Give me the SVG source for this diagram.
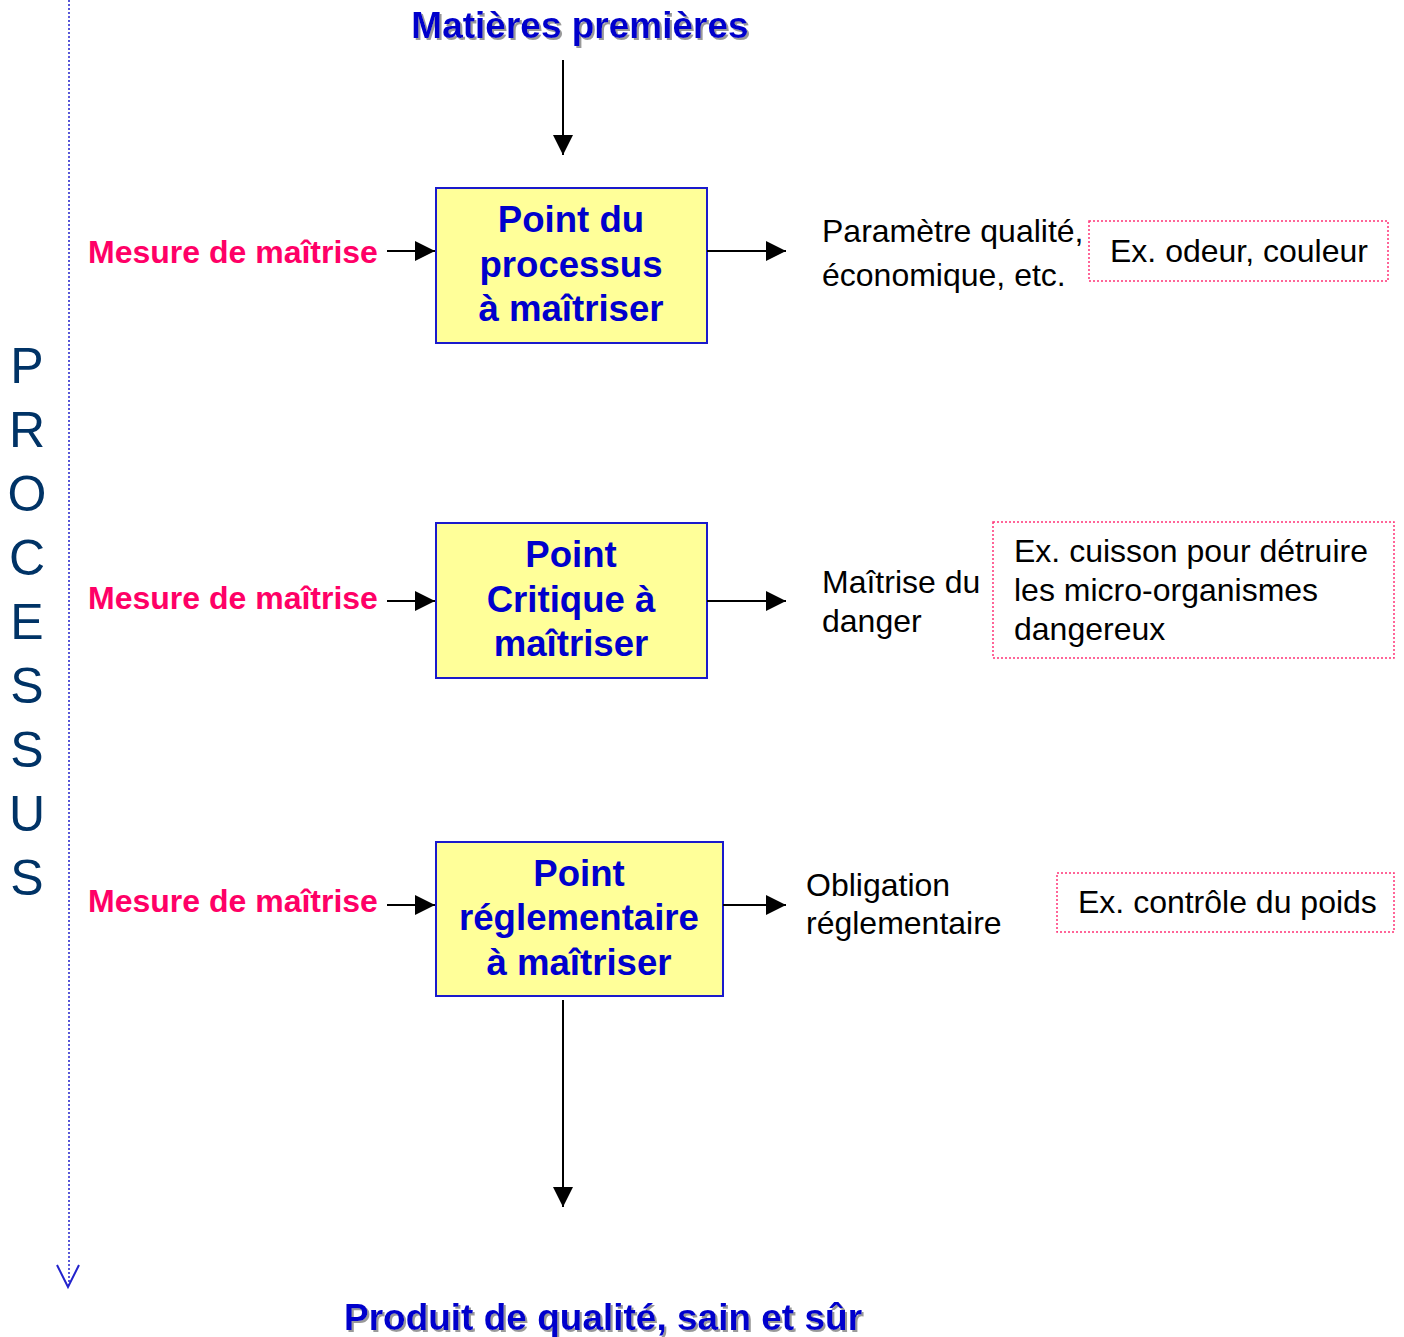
<svg xmlns="http://www.w3.org/2000/svg" width="1404" height="1337" viewBox="0 0 1404 1337">
<style>
.title{font-family:"Liberation Sans",Arial,sans-serif;font-weight:bold;font-size:37px;fill:#0000CC;text-anchor:middle}
.box{fill:#FFFF99;stroke:#1A1ACC;stroke-width:2}
.bt{font-family:"Liberation Sans",Arial,sans-serif;font-weight:bold;font-size:36.6px;fill:#0000CC;text-anchor:middle}
.mes{font-family:"Liberation Sans",Arial,sans-serif;font-weight:bold;font-size:32px;fill:#FF0066}
.rt{font-family:"Liberation Sans",Arial,sans-serif;font-size:32px;fill:#000}
.ex{fill:none;stroke:#FF3377;stroke-width:1.5;stroke-dasharray:2 2}
.proc{font-family:"Liberation Sans",Arial,sans-serif;font-size:50px;fill:#003366;text-anchor:middle}
.conn{stroke:#000;stroke-width:2;fill:none}
</style>
<defs>
<marker id="ah" markerUnits="userSpaceOnUse" markerWidth="20" markerHeight="20" viewBox="0 0 20 20" refX="20" refY="10" orient="auto">
<path d="M0,0 L20,10 L0,20 Z" fill="#000"/>
</marker>
<filter id="sh" x="-5%" y="-20%" width="110%" height="140%">
<feDropShadow dx="2" dy="2" stdDeviation="0.6" flood-color="#999999" flood-opacity="1"/>
</filter>
</defs>

<g id="process-axis">
<line x1="69" y1="0" x2="69" y2="1285" stroke="#2222CC" stroke-width="1.5" stroke-dasharray="2 2"/>
<path d="M57,1265 L68,1287 L79,1265" fill="none" stroke="#2222CC" stroke-width="2"/>
<text class="proc" x="27" y="383">P</text>
<text class="proc" x="27" y="447">R</text>
<text class="proc" x="27" y="511">O</text>
<text class="proc" x="27" y="575">C</text>
<text class="proc" x="27" y="639">E</text>
<text class="proc" x="27" y="703">S</text>
<text class="proc" x="27" y="767">S</text>
<text class="proc" x="27" y="831">U</text>
<text class="proc" x="27" y="895">S</text>
</g>

<g id="input"><text class="title" x="580" y="38" filter="url(#sh)">Matières premières</text></g>
<g id="output"><text class="title" x="603" y="1330" filter="url(#sh)">Produit de qualité, sain et sûr</text></g>

<g id="box1">
<rect class="box" x="436" y="188" width="271" height="155"/>
<text class="bt" x="571" y="232">Point du</text>
<text class="bt" x="571" y="277">processus</text>
<text class="bt" x="571" y="321">à maîtriser</text>
</g>
<g id="box2">
<rect class="box" x="436" y="523" width="271" height="155"/>
<text class="bt" x="571" y="567">Point</text>
<text class="bt" x="571" y="612">Critique à</text>
<text class="bt" x="571" y="656">maîtriser</text>
</g>
<g id="box3">
<rect class="box" x="436" y="842" width="287" height="154"/>
<text class="bt" x="579" y="886">Point</text>
<text class="bt" x="579" y="930">réglementaire</text>
<text class="bt" x="579" y="975">à maîtriser</text>
</g>

<g id="mesure1"><text class="mes" x="88" y="263">Mesure de maîtrise</text></g>
<g id="mesure2"><text class="mes" x="88" y="609">Mesure de maîtrise</text></g>
<g id="mesure3"><text class="mes" x="88" y="912">Mesure de maîtrise</text></g>

<g id="result1">
<text class="rt" x="822" y="242">Paramètre qualité,</text>
<text class="rt" x="822" y="286">économique, etc.</text>
</g>
<g id="result2">
<text class="rt" x="822" y="593">Maîtrise du</text>
<text class="rt" x="822" y="632">danger</text>
</g>
<g id="result3">
<text class="rt" x="806" y="896">Obligation</text>
<text class="rt" x="806" y="934">réglementaire</text>
</g>

<g id="example1">
<rect class="ex" x="1089" y="221" width="299" height="60"/>
<text class="rt" x="1110" y="262">Ex. odeur, couleur</text>
</g>
<g id="example2">
<rect class="ex" x="993" y="522" width="401" height="136"/>
<text class="rt" x="1014" y="562">Ex. cuisson pour détruire</text>
<text class="rt" x="1014" y="601">les micro-organismes</text>
<text class="rt" x="1014" y="640">dangereux</text>
</g>
<g id="example3">
<rect class="ex" x="1057" y="873" width="337" height="59"/>
<text class="rt" x="1078" y="913">Ex. contrôle du poids</text>
</g>

<g id="connectors">
<line class="conn" x1="563" y1="60" x2="563" y2="155" marker-end="url(#ah)"/>
<line class="conn" x1="387" y1="251" x2="435" y2="251" marker-end="url(#ah)"/>
<line class="conn" x1="707" y1="251" x2="786" y2="251" marker-end="url(#ah)"/>
<line class="conn" x1="387" y1="601" x2="435" y2="601" marker-end="url(#ah)"/>
<line class="conn" x1="707" y1="601" x2="786" y2="601" marker-end="url(#ah)"/>
<line class="conn" x1="387" y1="905" x2="435" y2="905" marker-end="url(#ah)"/>
<line class="conn" x1="723" y1="905" x2="786" y2="905" marker-end="url(#ah)"/>
<line class="conn" x1="563" y1="1000" x2="563" y2="1207" marker-end="url(#ah)"/>
</g>
</svg>
